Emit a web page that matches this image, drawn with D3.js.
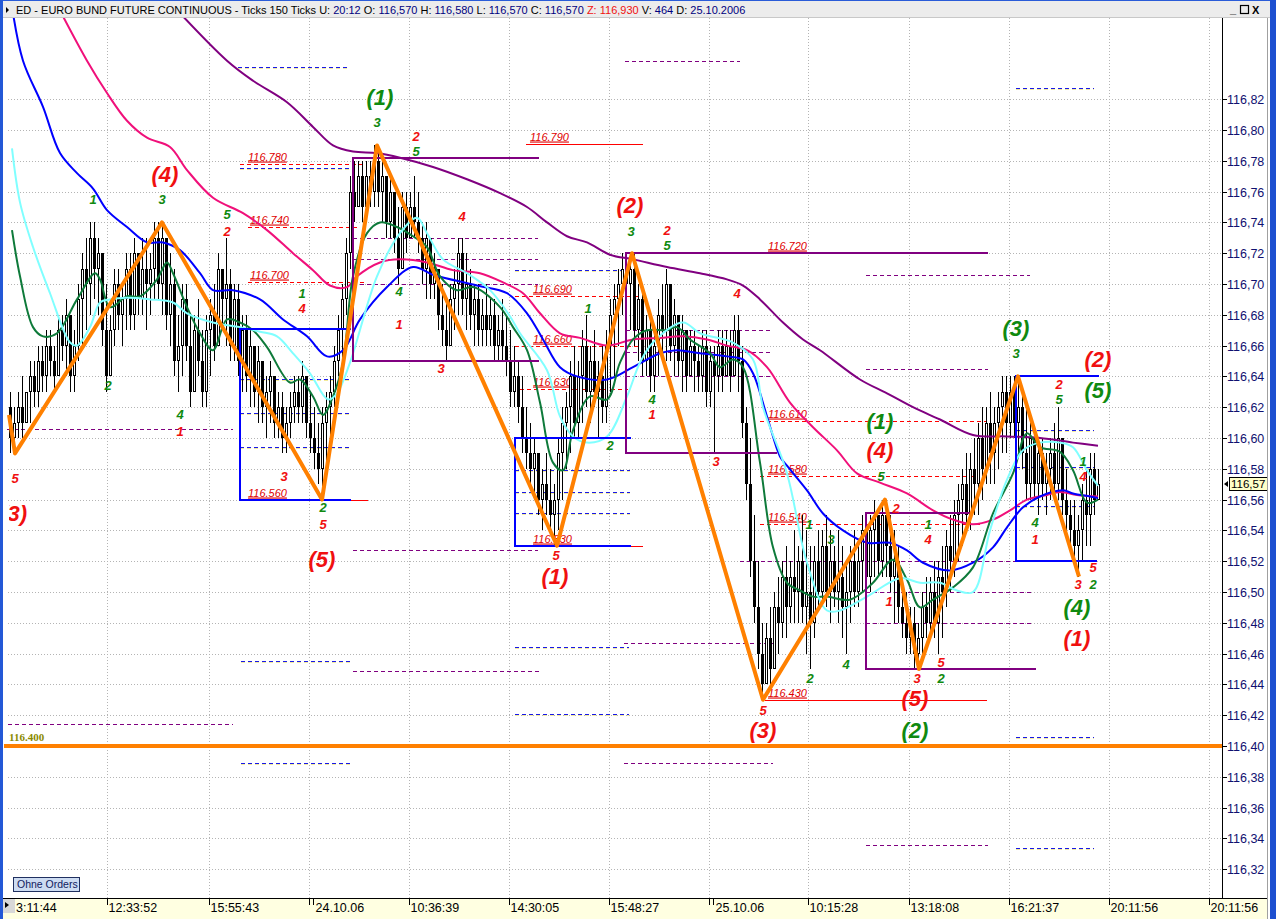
<!DOCTYPE html>
<html><head><meta charset="utf-8">
<script src="https://d3js.org/d3.v7.min.js"></script>
<style>
html,body{margin:0;padding:0;background:#fff;overflow:hidden}
svg{display:block;font-family:"Liberation Sans",Arial,sans-serif}
</style></head><body>
<svg id="c" width="1276" height="919"></svg>
<script>
// ---------------- DATA ----------------
// candles: [high, low, open, close] in hundredths above 116.00
const bars = [
[63,59,62,60],[62,59,60,61],[63,60,61,62],[64,60,62,61],[63,61,61,63],[65,61,63,64],[65,62,64,63],[66,62,63,65],[66,63,65,64],[67,63,64,66],
[67,64,66,65],[66,63,65,64],[68,64,64,67],[68,65,67,66],[69,64,66,68],[68,63,68,64],[67,63,64,66],[70,65,66,69],[72,66,69,71],[73,67,71,70],
[74,68,70,73],[74,69,73,71],[73,68,71,72],[72,66,72,67],[70,63,67,64],[68,64,64,67],[71,66,67,70],[71,67,70,68],[70,66,68,69],[72,67,69,71],
[72,67,71,68],[73,67,68,72],[72,68,72,69],[73,68,69,71],[73,67,71,70],[72,68,70,71],[74,69,71,73],[74,69,73,70],[74,68,70,73],[73,67,73,68],
[72,66,68,70],[71,64,70,65],[68,63,65,66],[70,64,66,69],[70,65,69,66],[68,62,66,63],[68,63,63,67],[69,64,67,65],[67,62,65,63],[68,62,63,67],
[69,64,67,68],[70,65,68,66],[72,66,66,71],[71,67,71,69],[73,66,69,70],[71,65,70,66],[70,65,66,69],[70,64,69,65],[68,63,65,67],[68,63,67,64],
[67,62,64,66],[66,62,66,63],[66,61,63,65],[65,61,65,62],[64,60,62,63],[65,61,63,64],[64,60,64,61],[63,60,61,62],[63,59,62,60],[62,59,60,61],
[63,60,61,62],[64,61,62,63],[64,61,63,62],[65,61,62,64],[64,60,64,61],[63,59,61,60],[62,58,60,59],[61,57,59,58],[62,56,58,61],[63,58,61,62],
[64,60,62,63],[66,62,63,65],[68,64,65,67],[70,65,67,69],[73,68,69,72],[77,71,72,76],[78,74,76,75],[78,75,75,77],[78,74,77,75],[78,75,75,77],
[78,75,77,76],[79,75,76,78],[79,75,78,76],[78,74,76,77],[77,73,77,74],[77,73,74,76],[76,72,76,73],[75,70,73,71],[76,71,71,75],[76,72,75,73],
[76,73,73,75],[77,73,75,74],[76,72,74,73],[74,70,73,71],[74,69,71,73],[73,69,73,70],[72,69,70,71],[71,67,71,68],[70,66,68,67],[69,65,67,66],
[70,66,66,69],[71,67,69,70],[73,68,70,72],[73,68,72,69],[72,67,69,70],[71,67,70,68],[70,66,68,69],[70,66,69,67],[69,66,67,68],[70,66,68,67],
[69,66,67,68],[69,65,68,66],[68,65,66,67],[69,65,67,66],[68,64,66,65],[67,62,65,63],[66,62,63,64],[65,61,64,62],[64,59,62,60],[62,58,60,59],
[61,57,59,58],[60,56,58,59],[59,55,59,56],[58,54,56,57],[59,55,57,56],[58,54,56,55],[57,53,55,56],[60,54,56,59],[62,56,59,61],[63,58,61,62],
[65,59,62,64],[66,60,64,61],[65,60,61,64],[67,61,64,66],[68,62,66,63],[66,61,63,65],[67,62,65,63],[65,60,63,64],[66,61,64,62],[67,61,62,66],
[69,63,66,68],[70,64,68,69],[71,66,69,70],[72,68,70,71],[72,68,71,70],[72,67,70,71],[72,66,71,67],[70,65,67,69],[70,64,69,65],[68,64,65,67],
[68,63,67,64],[67,63,64,66],[69,64,66,68],[70,65,68,67],[71,65,67,70],[70,65,70,66],[69,64,66,68],[68,64,68,65],[68,63,65,67],[67,63,67,64],
[67,64,64,66],[67,63,66,65],[66,63,65,64],[67,63,64,66],[67,62,66,63],[66,62,63,65],[66,59,65,64],[67,63,64,66],[67,63,66,64],[67,64,64,66],
[67,63,66,64],[68,64,64,67],[68,63,67,65],[66,60,65,61],[62,56,61,57],[60,51,57,52],[55,48,52,49],[52,45,49,46],[48,43,46,44],[48,44,44,47],
[49,44,47,45],[50,45,45,49],[51,46,49,48],[52,47,48,51],[53,47,51,49],[52,48,49,51],[54,48,51,50],[53,48,50,52],[55,48,52,49],[54,46,49,50],
[53,45,50,48],[53,47,48,52],[54,49,52,50],[54,49,50,53],[55,49,53,50],[54,48,50,52],[53,49,52,50],[54,48,50,51],[53,47,51,49],[52,46,49,50],
[53,48,50,52],[54,49,52,50],[53,49,50,52],[55,50,52,54],[55,49,54,51],[55,50,51,54],[56,51,54,55],[55,51,55,52],[56,51,52,55],[56,51,55,53],
[55,50,53,51],[54,48,51,52],[53,48,52,49],[51,47,49,48],[50,46,48,47],[49,46,47,48],[49,45,48,46],[48,45,46,47],[50,46,47,49],[51,47,49,48],
[51,47,48,50],[52,47,50,48],[52,46,48,51],[53,47,51,50],[54,49,50,53],[55,50,53,52],[56,51,52,55],[57,52,55,56],[58,53,56,57],[59,54,57,55],
[59,54,55,58],[60,55,58,57],[61,55,57,60],[62,56,60,58],[62,57,58,61],[63,57,61,59],[62,57,59,61],[63,58,61,62],[64,59,62,63],[64,59,63,61],
[64,60,61,63],[64,60,63,61],[64,59,61,62],[63,58,62,59],[62,56,59,57],[61,56,57,60],[60,56,60,57],[60,55,57,59],[60,56,59,57],[59,55,57,58],
[60,56,58,59],[61,56,59,57],[62,56,57,60],[60,55,60,56],[58,54,56,55],[56,53,55,54],[56,52,54,53],[55,51,53,54],[57,52,54,56],[58,53,56,55],
[59,53,55,58],[59,55,58,56],[58,56,56,57]
];
const priceBase = 116.00;

// moving averages: [bar index, price]
const maCyan = [[0.5,116.788],[2.5,116.753],[5.75,116.724],[10,116.694],[15,116.662],[16.75,116.660],[20,116.672],[22.5,116.688],[25,116.690],[29.25,116.691],[35,116.690],[40.75,116.688],[44.25,116.681],[50.75,116.675],[57.5,116.672],[62.5,116.669],[66.75,116.666],[70.75,116.655],[75,116.642],[79.5,116.625],[81.75,116.629],[85,116.649],[91.75,116.705],[97.5,116.733],[101.75,116.743],[104.25,116.733],[108.25,116.716],[114.25,116.707],[120,116.696],[125,116.679],[127.5,116.668],[134.25,116.644],[137.5,116.614],[140.75,116.601],[144.25,116.597],[149.25,116.601],[154.25,116.627],[157.5,116.649],[160.75,116.662],[168.25,116.675],[172.5,116.668],[180.75,116.662],[185.75,116.651],[188.25,116.620],[194.25,116.577],[199.25,116.519],[204.25,116.488],[207.5,116.488],[214.25,116.497],[222.5,116.509],[227.5,116.506],[232.5,116.506],[236.75,116.501],[240.75,116.500],[245,116.540],[249.25,116.573],[253.25,116.592],[257.5,116.597],[262.5,116.597],[265.75,116.594],[269.25,116.579],[272,116.569]];
const maGreen = [[0.5,116.735],[2.5,116.705],[5.75,116.672],[8.25,116.666],[11.75,116.668],[16.75,116.690],[21.25,116.707],[22.5,116.703],[25,116.685],[29.25,116.692],[32.5,116.692],[36.75,116.703],[39.25,116.714],[40.75,116.707],[44.25,116.685],[47.5,116.668],[50.75,116.657],[54.25,116.677],[57.5,116.675],[60.75,116.670],[64.25,116.659],[70,116.636],[72.5,116.638],[75.75,116.627],[78.25,116.615],[80.75,116.627],[83.25,116.649],[85.75,116.705],[89.25,116.733],[92.5,116.740],[96.75,116.737],[100.75,116.731],[104.25,116.724],[107.5,116.705],[111.75,116.696],[115.75,116.698],[122.5,116.685],[125.75,116.672],[129.25,116.657],[132.5,116.623],[135.75,116.584],[138.25,116.579],[140.75,116.605],[145,116.627],[149.25,116.625],[152.5,116.649],[155.75,116.664],[159.25,116.670],[164.25,116.670],[166.75,116.672],[170,116.664],[175,116.655],[177.5,116.646],[180.75,116.651],[183.25,116.646],[187.5,116.584],[190.75,116.529],[194.25,116.506],[197.5,116.501],[200.75,116.497],[204.25,116.497],[210,116.495],[215.75,116.506],[220.75,116.521],[224.25,116.508],[227.5,116.490],[230.75,116.495],[235.75,116.503],[240.75,116.516],[245.75,116.551],[250.75,116.577],[254.25,116.603],[257.5,116.594],[262.5,116.591],[265.75,116.579],[269.25,116.558],[272,116.560]];
const maBlue = [[0.5,116.880],[3.25,116.845],[8.25,116.815],[12.5,116.785],[16.75,116.772],[20.75,116.762],[24.25,116.748],[29.25,116.737],[34.25,116.727],[38.25,116.727],[42.5,116.722],[47.5,116.707],[50.75,116.696],[55.75,116.696],[62.5,116.690],[68.25,116.677],[74.25,116.666],[79.25,116.653],[83.25,116.657],[87.5,116.677],[94.25,116.698],[100.75,116.711],[105.75,116.706],[116.75,116.699],[124.25,116.694],[129.25,116.681],[133.25,116.664],[137.5,116.646],[141.75,116.640],[149.25,116.638],[155.75,116.646],[162.5,116.655],[166.75,116.657],[172.5,116.655],[179.25,116.653],[183.25,116.651],[185.75,116.642],[189.25,116.614],[192.5,116.588],[194.25,116.582],[199.25,116.566],[203.25,116.551],[208.25,116.540],[214.25,116.532],[220,116.532],[224.25,116.527],[228.25,116.519],[235,116.514],[240.75,116.519],[245.75,116.529],[249.25,116.542],[253.25,116.555],[257.5,116.562],[263.25,116.566],[265.75,116.564],[270,116.562],[272,116.561]];
const maPink = [[12,116.880],[19.25,116.845],[24.25,116.824],[29.25,116.806],[34.25,116.795],[40,116.789],[44.25,116.774],[50.75,116.756],[58.25,116.746],[64.25,116.735],[70.75,116.720],[75.75,116.709],[80,116.699],[84.25,116.698],[86.75,116.705],[92.5,116.714],[97.5,116.716],[104.25,116.714],[110.75,116.709],[117.5,116.707],[123.25,116.701],[128.25,116.694],[132.5,116.681],[137.5,116.668],[142.5,116.665],[149.25,116.660],[155.75,116.664],[162.5,116.665],[168.25,116.666],[174.25,116.664],[179.25,116.660],[184.25,116.657],[189.25,116.646],[195,116.623],[200.75,116.607],[206.75,116.592],[211.75,116.577],[217.5,116.571],[224.25,116.564],[230.75,116.553],[235.75,116.547],[240.75,116.544],[245.75,116.547],[250,116.553],[254.25,116.560],[259.25,116.563],[262.5,116.565],[266.75,116.563],[272,116.562]];
const maPurple = [[41,116.880],[54.25,116.845],[60.75,116.832],[69.25,116.818],[75.75,116.802],[80.75,116.790],[85.75,116.786],[91.75,116.785],[97.5,116.782],[105.75,116.776],[114.25,116.768],[122.5,116.759],[129.25,116.750],[134.25,116.740],[139.25,116.731],[144.25,116.727],[150,116.719],[155.75,116.716],[164.25,116.711],[172.5,116.707],[179.25,116.703],[183.25,116.699],[187.5,116.690],[193.25,116.675],[198.25,116.664],[202.5,116.657],[212.5,116.638],[219.25,116.629],[225.75,116.620],[232.5,116.612],[240.75,116.602],[249.25,116.601],[257.5,116.600],[265.75,116.597],[272,116.595]];

// orange zig-zag wave pivots: [bar index, price]
const zigzag = [[-0.25,116.615],[1.25,116.59],[38,116.74],[78,116.56],[91.75,116.79],[136.75,116.53],[155.5,116.72],[188.25,116.43],[218.75,116.56],[227.25,116.45],[252,116.64],[267.25,116.51]];

// wave degree labels: [bar index, price, text, colour-group]
const waveBig = [[0.9,116.551,"(3)","r"],[38.75,116.771,"(4)","r"],[78,116.521,"(5)","r"],[92.5,116.821,"(1)","g"],[136.25,116.510,"(1)","r"],[155,116.751,"(2)","r"],[188.25,116.410,"(3)","r"],[217.5,116.611,"(1)","g"],[217.5,116.592,"(4)","r"],[226.25,116.431,"(5)","r"],[226.25,116.410,"(2)","g"],[251.5,116.671,"(3)","g"],[272,116.651,"(2)","r"],[272,116.631,"(5)","g"],[266.75,116.490,"(4)","g"],[266.75,116.470,"(1)","r"]];
const waveSmall = [[1.25,116.574,"5","r"],[20.75,116.755,"1","g"],[38,116.755,"3","g"],[24.5,116.634,"2","g"],[42.5,116.615,"4","g"],[42.5,116.604,"1","r"],[54.25,116.745,"5","g"],[54.25,116.734,"2","r"],[73,116.694,"1","g"],[73,116.684,"4","r"],[68.5,116.575,"3","r"],[78.25,116.555,"2","g"],[78.25,116.544,"5","r"],[91.75,116.805,"3","g"],[101.5,116.796,"2","r"],[101.5,116.786,"5","g"],[97.25,116.695,"4","g"],[97.25,116.674,"1","r"],[113,116.744,"4","r"],[107.75,116.645,"3","r"],[144.5,116.684,"1","g"],[160.5,116.625,"4","g"],[160.5,116.615,"1","r"],[150,116.595,"2","g"],[136.5,116.524,"5","r"],[155.25,116.734,"3","g"],[164.25,116.735,"2","r"],[164.25,116.725,"5","g"],[181.75,116.694,"4","r"],[176.5,116.585,"3","r"],[199.75,116.544,"1","g"],[205.25,116.534,"3","g"],[200,116.444,"2","g"],[209,116.453,"4","g"],[217.75,116.575,"5","g"],[221.5,116.554,"2","r"],[229.5,116.544,"1","g"],[229.5,116.534,"4","r"],[219.75,116.494,"1","r"],[226.75,116.444,"3","r"],[232.75,116.454,"5","r"],[232.75,116.444,"2","g"],[188.25,116.423,"5","r"],[251.5,116.655,"3","g"],[262.25,116.635,"2","r"],[262.25,116.625,"5","g"],[256.25,116.545,"4","g"],[256.25,116.534,"1","r"],[268.25,116.585,"1","g"],[268.25,116.575,"4","r"],[267,116.505,"3","r"],[270.75,116.516,"5","r"],[270.75,116.505,"2","g"]];

// target levels with text: [label, price, from bar, to bar, label bar, kind]
const levels = [["116.780",116.778,57.5,88.25,59.5,"dash"],["116.740",116.737,59.5,87.5,60,"dash"],["116.700",116.701,59.5,88.75,60,"dash"],
["116.790",116.791,129,158.25,130,"solid"],["116.720",116.72,187.5,244.25,189.5,"solid"],["116.690",116.692,126.25,157.5,130.75,"dash"],
["116.660",116.66,126.25,157.5,130.75,"dash"],["116.630",116.632,127.5,154.5,130.75,"dash"],["116.610",116.611,187.5,244.25,189.5,"dash"],
["116.580",116.575,187.5,242.5,189.5,"dash"],["116.540",116.544,187.5,242.5,189.5,"dash"],["116.430",116.43,188.75,244.25,189.5,"solid"],
["116.560",116.56,85,89.5,59.5,"solid"],["116.530",116.53,155,158.25,130.75,"solid"]];

// wave boxes, segments: [kind, bar1, price1, bar2, price2]
const boxSegs = [
["blue",57.5,116.671,85,116.671],["blue",57.5,116.671,57.5,116.56],["blue",57.5,116.56,85,116.56],
["purple",85.75,116.782,132,116.782],["purple",85.75,116.782,85.75,116.65],["purple",85.75,116.65,132,116.65],
["blue",126.25,116.60,155,116.60],["blue",126.25,116.60,126.25,116.53],["blue",126.25,116.53,155,116.53],
["purple",154,116.72,244.25,116.72],["purple",154,116.72,154,116.59],["purple",154,116.59,191.5,116.59],
["purple",214,116.551,240,116.551],["purple",214,116.551,214,116.45],["purple",214,116.45,256.25,116.45],
["blue",251.5,116.64,272,116.64],["blue",251.5,116.64,251.5,116.52],["blue",251.5,116.52,271.5,116.52]];

// projection dashes: [kind, price, from bar, to bar]
const projDash = [
["blue",116.841,57,85],["blue",116.775,57.5,85],["blue",116.638,57.5,85.5],["blue",116.616,57.5,85.5],["blue",116.594,57.5,85.5],
["blue",116.455,57.75,85.25],["blue",116.389,57.75,85.25],["blue",116.709,126.25,154.25],["blue",116.579,126.25,155],["blue",116.565,126.25,155],
["blue",116.551,126.25,155],["blue",116.464,126.25,154.75],["blue",116.421,126.25,154.75],["blue",116.827,251.5,271],["blue",116.605,251.5,271],
["blue",116.581,251.5,271],["blue",116.556,251.5,271],["blue",116.406,251.5,271],["blue",116.334,251.5,271],
["purple",116.845,153.75,182.5],["purple",116.606,-0.75,55.75],["purple",116.414,-0.5,55.75],["purple",116.730,85.75,132],["purple",116.716,85.75,132],
["purple",116.700,85.75,132],["purple",116.527,85.75,132],["purple",116.449,85.75,132.25],["purple",116.670,154,190.75],["purple",116.656,154,190.75],
["purple",116.640,154,190.75],["purple",116.467,153.5,190.75],["purple",116.389,153.5,190.75],["purple",116.50,214,255.5],["purple",116.48,214,255.5],
["purple",116.52,182.5,251.5],["purple",116.706,214,255],["purple",116.645,214,244.5],["purple",116.336,214,244.5]];

const supportLevel = {label:"116.400", price:116.40};
const yTickValues = [116.32,116.34,116.36,116.38,116.40,116.42,116.44,116.46,116.48,116.50,116.52,116.54,116.56,116.58,116.60,116.62,116.64,116.66,116.68,116.70,116.72,116.74,116.76,116.78,116.80,116.82];
const xTickIdx = [24.25,49.75,74.75,99.75,124.75,149.75,174.75,199.5,224.75,249.75,274.75,299.75];
const xTickLabels = ["12:33:52","15:55:43","24.10.06","10:36:39","14:30:05","15:48:27","25.10.06","10:15:28","13:18:08","16:21:37","20:11:56","20:11:56"];
const firstTimeLabel = "3:11:44";
const lastPrice = 116.57;
const titleParts = [["ED - EURO BUND FUTURE CONTINUOUS - Ticks 150 Ticks  U:","k"],["20:12","b"],["O:","k"],["116,570","b"],["H:","k"],["116,580","b"],["L:","k"],["116,570","b"],["C:","k"],["116,570","b"],["Z:","r"],["116,930","r"],["V:","k"],["464","b"],["D:","k"],["25.10.2006","b"]];

// ---------------- DRAW ----------------
const svg = d3.select("#c");
const PL=4, PR=1222, PT=18, PB=898;
const x = d3.scaleLinear().domain([0,272]).range([10,1098]);
const y = d3.scaleLinear().domain([116.40,116.80]).range([746,130]);
const px = v => priceBase + v/100;
const col = {r:"#f01010", g:"#108a10", k:"#000", b:"#000080"};

svg.append("rect").attr("width",1276).attr("height",919).attr("fill","#fff");
const defs = svg.append("defs");
defs.append("clipPath").attr("id","clip").append("rect")
  .attr("x",PL).attr("y",PT).attr("width",PR-PL).attr("height",PB-PT);
defs.append("clipPath").attr("id","clipL").append("rect")
  .attr("x",9).attr("y",PT).attr("width",PR-9).attr("height",PB-PT);
const g = svg.append("g").attr("clip-path","url(#clip)");

// grid
const grid = g.append("g").attr("stroke","#b4b4b4").attr("stroke-dasharray","1,2").attr("shape-rendering","crispEdges");
yTickValues.forEach(v=>{
  const yy=Math.round(y(v))+0.5;
  grid.append("line").attr("x1",8).attr("x2",PR).attr("y1",yy).attr("y2",yy);
});
xTickIdx.forEach(i=>{
  const xx=Math.round(x(i))+0.5;
  grid.append("line").attr("x1",xx).attr("x2",xx).attr("y1",PT).attr("y2",PB);
});

// projection dashes
const dg = g.append("g").attr("shape-rendering","crispEdges");
projDash.forEach(([k,p,a,b])=>{
  const yy=Math.round(y(p))+0.5;
  if(k==="blue"){
    dg.append("line").attr("x1",x(a)).attr("x2",x(b)).attr("y1",yy+1).attr("y2",yy+1)
      .attr("stroke","#f4ec9c").attr("stroke-dasharray","4,3");
    dg.append("line").attr("x1",x(a)).attr("x2",x(b)).attr("y1",yy).attr("y2",yy)
      .attr("stroke","#1818e8").attr("stroke-dasharray","4,3");
  } else {
    dg.append("line").attr("x1",x(a)).attr("x2",x(b)).attr("y1",yy).attr("y2",yy)
      .attr("stroke","#800080").attr("stroke-dasharray","4,3");
  }
});

// target levels
const lg = g.append("g");
levels.forEach(([t,p,a,b,lb,kind])=>{
  const yy=Math.round(y(p))+0.5;
  lg.append("line").attr("x1",x(a)).attr("x2",x(b)).attr("y1",yy).attr("y2",yy)
    .attr("stroke","#ff0000").attr("stroke-width",1).attr("shape-rendering","crispEdges")
    .attr("stroke-dasharray",kind==="dash"?"4,3":null);
  lg.append("text").attr("x",x(lb)).attr("y",yy-4).text(t)
    .attr("fill","#e00000").attr("font-size",11).attr("font-style","italic")
    .attr("text-decoration","underline");
});

// candles
const cg = g.append("g").attr("shape-rendering","crispEdges");
bars.forEach((b,i)=>{
  const [h,l,o,c]=b.map(px);
  const xi=Math.round(x(i));
  cg.append("line").attr("x1",xi+0.5).attr("x2",xi+0.5).attr("y1",Math.round(y(h))).attr("y2",Math.round(y(l)))
    .attr("stroke","#000");
  const top=Math.round(y(Math.max(o,c))), bot=Math.round(y(Math.min(o,c)));
  cg.append("rect").attr("x",xi-0.5).attr("y",top+0.5).attr("width",2).attr("height",Math.max(1,bot-top-1))
    .attr("fill",c>o?"#fff":"#000").attr("stroke","#000");
});

// moving averages
const line = d3.line().x(d=>x(d[0])).y(d=>y(d[1])).curve(d3.curveCatmullRom);
[[maPurple,"#800080"],[maPink,"#f0107a"],[maBlue,"#0000ff"],[maGreen,"#0e7a3a"],[maCyan,"#80ffff"]].forEach(([d,c])=>{
  g.append("path").attr("d",line(d)).attr("fill","none").attr("stroke",c).attr("stroke-width",2);
});

// boxes
const bg = g.append("g").attr("shape-rendering","crispEdges");
boxSegs.forEach(([k,a,p1,b,p2])=>{
  bg.append("line").attr("x1",Math.round(x(a))).attr("x2",Math.round(x(b)))
    .attr("y1",Math.round(y(p1))).attr("y2",Math.round(y(p2)))
    .attr("stroke",k==="blue"?"#0000ff":"#800080").attr("stroke-width",2).attr("stroke-linecap","square");
});

// support line
g.append("line").attr("x1",PL).attr("x2",PR).attr("y1",y(supportLevel.price)).attr("y2",y(supportLevel.price))
  .attr("stroke","#ff8000").attr("stroke-width",4);
g.append("text").attr("x",9).attr("y",y(supportLevel.price)-5).text(supportLevel.label)
  .attr("fill","#8a8a00").attr("font-size",11).attr("font-weight","bold").attr("font-family","'Liberation Serif',serif");

// zig-zag
g.append("path").attr("d",d3.line().x(d=>x(d[0])).y(d=>y(d[1]))(zigzag))
  .attr("fill","none").attr("stroke","#ff8000").attr("stroke-width",4).attr("stroke-linejoin","round");

// wave labels
const tg = svg.append("g").attr("clip-path","url(#clipL)").attr("font-weight","bold").attr("font-style","italic").attr("text-anchor","middle").attr("dominant-baseline","central");
waveBig.forEach(([i,p,t,c])=>{
  tg.append("text").attr("x",x(i)).attr("y",y(p)).text(t).attr("fill",col[c]).attr("font-size",22);
});
waveSmall.forEach(([i,p,t,c])=>{
  tg.append("text").attr("x",x(i)).attr("y",y(p)).text(t).attr("fill",col[c]).attr("font-size",13);
});

// ---- axes & frame ----
const ya = svg.append("g");
ya.append("line").attr("x1",PR+0.5).attr("x2",PR+0.5).attr("y1",PT).attr("y2",PB).attr("stroke","#000");
yTickValues.forEach(v=>{
  const yy=Math.round(y(v))+0.5;
  ya.append("line").attr("x1",PR).attr("x2",PR+5).attr("y1",yy).attr("y2",yy).attr("stroke","#000");
  ya.append("text").attr("x",PR+5).attr("y",yy).attr("dominant-baseline","central")
    .text(v.toFixed(2).replace(".",",")).attr("fill","#101070").attr("font-size",12.5);
});
// last price box
const ly=Math.round(y(lastPrice));
ya.append("rect").attr("x",1229.5).attr("y",ly-6.5).attr("width",38).attr("height",13).attr("fill","#ffffc8").attr("stroke","#000");
ya.append("text").attr("x",1231).attr("y",ly).attr("dominant-baseline","central").text(lastPrice.toFixed(2).replace(".",",")).attr("fill","#000").attr("font-size",11.5);
ya.append("path").attr("d",`M1224,${ly} l4,-3 v6 z`).attr("fill","#000");

// x axis band
svg.append("rect").attr("x",3).attr("y",PB+1).attr("width",1265).attr("height",919-PB-1).attr("fill","#ffffe1");
svg.append("line").attr("x1",3).attr("x2",1268).attr("y1",PB+0.5).attr("y2",PB+0.5).attr("stroke","#000");
const xa = svg.append("g").attr("font-size",12.5).attr("fill","#000");
xTickIdx.forEach((i,k)=>{
  const xx=Math.round(x(i))+0.5;
  xa.append("line").attr("x1",xx).attr("x2",xx).attr("y1",PB).attr("y2",PB+7).attr("stroke","#000");
  const isDate = xTickLabels[k].indexOf(".")>0;
  if(isDate) xa.append("line").attr("x1",xx+4).attr("x2",xx+4).attr("y1",PB).attr("y2",PB+7).attr("stroke","#000");
  xa.append("text").attr("x",xx+(isDate?6:1)).attr("y",912).text(xTickLabels[k]);
});
svg.append("rect").attr("x",3).attr("y",PB+1).attr("width",12).attr("height",14).attr("fill","#d8d8d8");
svg.append("path").attr("d",`M5,${PB+4} l4,3 l-4,3 z`).attr("fill","#000");
xa.append("text").attr("x",16).attr("y",912).text(firstTimeLabel);

// Ohne Orders button
svg.append("rect").attr("x",13.5).attr("y",877.5).attr("width",66).attr("height",14).attr("fill","#cddcf2").attr("stroke","#203060");
svg.append("text").attr("x",17).attr("y",888).text("Ohne Orders").attr("font-size",10.5).attr("fill","#102060");

// title bar
svg.append("rect").attr("x",0).attr("y",0).attr("width",1276).attr("height",PT).attr("fill","#ececec");
svg.append("line").attr("x1",0).attr("x2",1276).attr("y1",0.5).attr("y2",0.5).attr("stroke","#2a5cd8");
svg.append("line").attr("x1",0).attr("x2",1276).attr("y1",PT-0.5).attr("y2",PT-0.5).attr("stroke","#c8c8c8");
svg.append("path").attr("d","M6,7 l3,3 l-3,3 z").attr("fill","#000");
const tt = svg.append("text").attr("x",16).attr("y",14).attr("font-size",11);
titleParts.forEach(([t,c],k)=>{
  tt.append("tspan").text((k>0?" ":"")+t).attr("fill",col[c]);
});
// window buttons
svg.append("text").attr("x",1230).attr("y",13).text("_").attr("font-size",11).attr("font-weight","bold");
svg.append("rect").attr("x",1240.5).attr("y",5.5).attr("width",8).attr("height",8).attr("fill","none").attr("stroke","#000").attr("stroke-width",1.2);
svg.append("text").attr("x",1252).attr("y",14).text("X").attr("font-size",11).attr("font-weight","bold");

// borders
svg.append("rect").attr("x",0).attr("y",0).attr("width",3).attr("height",919).attr("fill","#2358d6");
svg.append("line").attr("x1",1267.5).attr("x2",1267.5).attr("y1",PT).attr("y2",919).attr("stroke","#a0a0a0");
svg.append("rect").attr("x",1270).attr("y",0).attr("width",6).attr("height",919).attr("fill","#1d4fd0");
</script>
</body></html>
